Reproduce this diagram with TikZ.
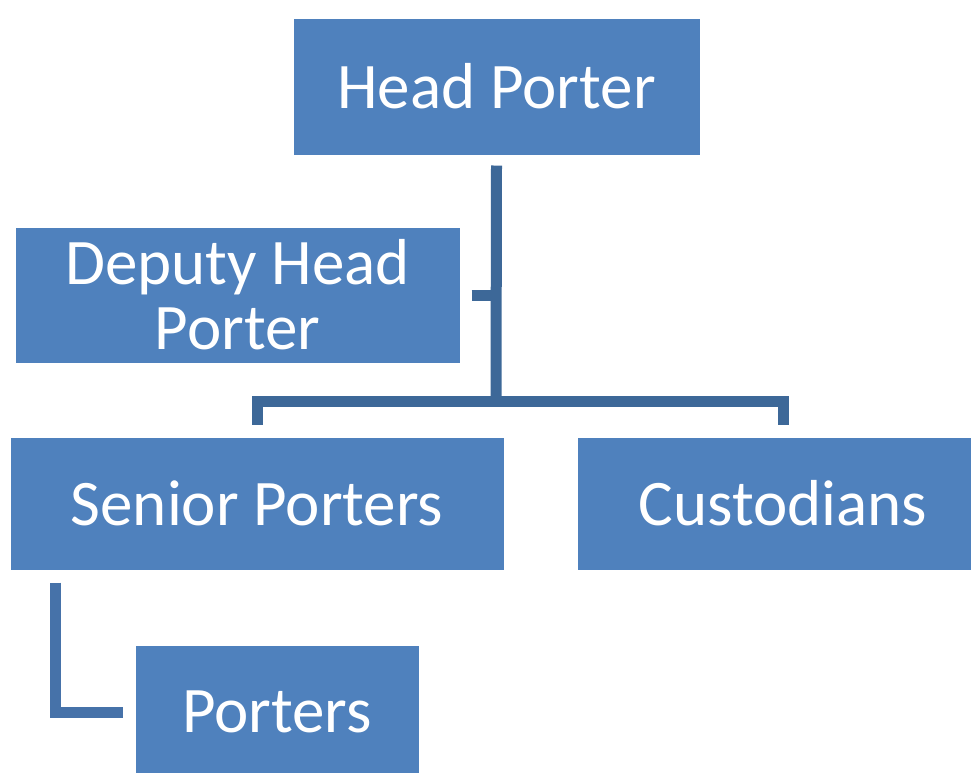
\documentclass[tikz,border=0pt]{standalone}
\usepackage{fontspec}
\setmainfont{Carlito}
\usetikzlibrary{calc}

\definecolor{boxblue}{HTML}{4F81BD}
\definecolor{spineblue}{HTML}{3D6898}
\definecolor{subblue}{HTML}{4672A9}

\tikzset{
	post/.style={draw=white, line width=1pt, fill=boxblue, text=white, align=center, inner sep=0pt,
		font=\fontsize{65}{65}\selectfont},
	link/.style={draw=spineblue, line width=11pt},
	sublink/.style={draw=subblue, line width=11pt}
}

\begin{document}
\begin{tikzpicture}[x=1pt,y=-1pt]
			\useasboundingbox (0,0) rectangle (971,772);
			%posts
			\node[post, minimum width=407pt, minimum height=137pt] (head) at (496.5,86.5) {Head Porter};
			\node[post, minimum width=445pt, minimum height=136pt] (deputy) at (237.5,295) {Deputy Head\\Porter};
			\node[post, minimum width=494pt, minimum height=133pt] (senior) at (257,503.5) {Senior Porters};
			\node[post, minimum width=412pt, minimum height=133pt] (custodians) at (783,503.5) {Custodians};
			\node[post, minimum width=284pt, minimum height=134pt] (porters) at (277,712) {Porters};
			
			%connectors
			\coordinate (bus) at (496,401);
			\coordinate (elbow) at (55,712);
			\draw[link] ([yshift=-10pt]head.south) -- (bus);
			\draw[link] ([yshift=12pt]senior.north) |- (bus) -| ([yshift=12pt]custodians.north);
			\draw[link] ([xshift=11pt]deputy.east) -- (deputy.east -| head.south);
			\draw[sublink] ([yshift=-12pt]senior.south -| elbow) -- (elbow) -- ([xshift=-12pt]porters.west);
\end{tikzpicture}
\end{document}
